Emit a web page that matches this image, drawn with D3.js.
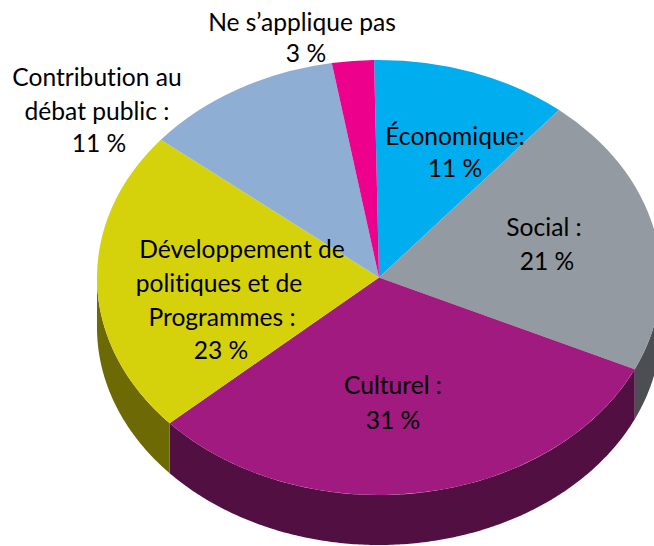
<!DOCTYPE html>
<html>
<head>
<meta charset="utf-8">
<script src="https://cdn.jsdelivr.net/npm/d3@7"></script>
<style>
html,body{margin:0;padding:0;background:#fff;overflow:hidden}
svg{display:block}
text{font-family:Lato,"Open Sans",sans-serif;font-size:24.6px;fill:#000;text-anchor:middle;font-variant-ligatures:none}
</style>
</head>
<body>
<script>
const categories = ["Économique", "Social", "Culturel", "Développement", "Contribution", "Ne s’applique pas"];
const shares = [11.3, 20.9, 31.4, 22.6, 11.4, 2.4];
const topColors = ["#00aeef", "#939aa1", "#a11a80", "#d5d10b", "#8faed4", "#ec008c"];
const wallColors = ["#00688f", "#4b4e52", "#520f42", "#6d6a06", "#566880", "#8e0054"];
const labelLines = [
  ["Économique:", "11 %"],
  ["Social :", "21 %"],
  ["Culturel :", "31 %"],
  ["Développement de", "politiques et de", "Programmes :", "23 %"],
  ["Contribution au", "débat public :", "11 %"],
  ["Ne s’applique pas", "3 %"]
];

const W = 654, H = 546, cx = 379, cy = 277.5, rx = 282, ry = 217.5, depth = 50;
const startDeg = -1;
const lineX = [[455,455],[544,547],[393,393],[242,219,222,221],[97,97,99],[302,306]];
const lineY = [[145,177],[236,270],[394,429],[258,292,326,359],[86,120,152],[31,62]];

const svg = d3.select("body").append("svg").attr("width", W).attr("height", H);

const start = startDeg * Math.PI / 180;
const pie = d3.pie().sort(null).startAngle(start).endAngle(start + 2 * Math.PI);
const arcs = pie(shares);
const arc = d3.arc().innerRadius(0).outerRadius(rx);

const px = a => cx + rx * Math.sin(a);
const py = a => cy - ry * Math.cos(a);

const wall = d3.area().x(px).y0(py).y1(a => py(a) + depth);
const walls = svg.append("g");
arcs.forEach((d, i) => {
  const a0 = Math.max(d.startAngle, Math.PI / 2);
  const a1 = Math.min(d.endAngle, 3 * Math.PI / 2);
  if (a1 <= a0) return;
  const n = Math.ceil((a1 - a0) / 0.01);
  const angles = d3.range(n + 1).map(k => a0 + (a1 - a0) * k / n);
  walls.append("path").attr("d", wall(angles)).attr("fill", wallColors[i]);
});

svg.append("g")
  .attr("transform", `translate(${cx},${cy}) scale(1,${ry / rx})`)
  .selectAll("path").data(arcs).join("path")
  .attr("d", arc)
  .attr("fill", (d, i) => topColors[i])
  .append("title").text((d, i) => categories[i]);

const labels = svg.append("g");
labelLines.forEach((lines, i) => {
  lines.forEach((t, j) => {
    labels.append("text").attr("x", lineX[i][j]).attr("y", lineY[i][j]).text(t);
  });
});
</script>
</body>
</html>
